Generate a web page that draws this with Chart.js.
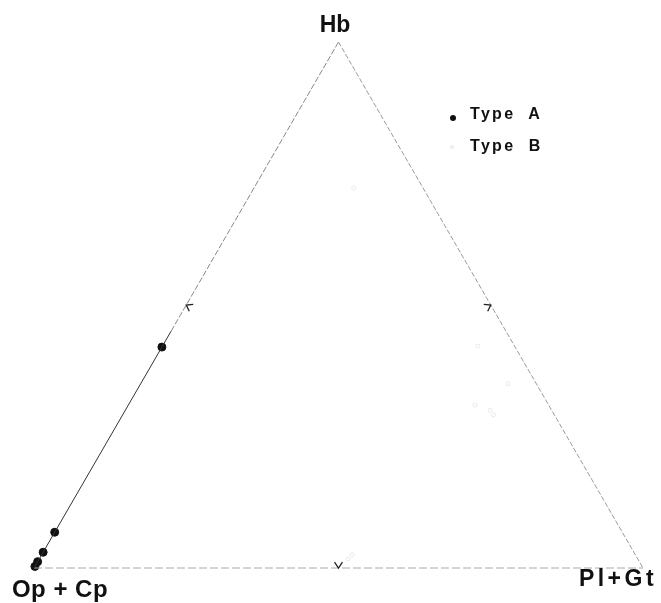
<!DOCTYPE html>
<html>
<head>
<meta charset="utf-8">
<script src="https://cdn.jsdelivr.net/npm/chart.js@4.4.1/dist/chart.umd.min.js"></script>
<style>
  html, body { margin: 0; padding: 0; background: #fff; }
  #wrap { position: relative; width: 661px; height: 603px; }
  canvas { position: absolute; left: 0; top: 0; }
  .lbl { position: absolute; font-family: "Liberation Sans", Arial, sans-serif; font-weight: bold; color: #111; line-height: 1; white-space: pre; }
</style>
</head>
<body>
<div id="wrap">
  <canvas id="c" width="661" height="603"></canvas>
  <div class="lbl" style="font-size:23px; left:335px; top:13px; transform:translateX(-50%);">Hb</div>
  <div class="lbl" style="font-size:24px; left:60px; top:577px; transform:translateX(-50%); letter-spacing:0.5px;">Op + Cp</div>
  <div class="lbl" style="font-size:23px; left:618px; top:567px; transform:translateX(-50%); letter-spacing:3.5px;">Pl+Gt</div>
  <div class="lbl" style="font-size:16px; left:470px; top:106px; letter-spacing:2.3px;">Type  A</div>
  <div class="lbl" style="font-size:16px; left:470px; top:138px; letter-spacing:2.3px;">Type  B</div>
</div>
<script>
// ---- data (ternary fractions: Hb, Op+Cp, Pl+Gt) ----
const categories = ['Type A', 'Type B'];
const vertexLabels = ['Hb', 'Op + Cp', 'Pl+Gt'];

const typeA_Hb   = [0.42, 0.068, 0.030, 0.012, 0.003];
const typeA_PlGt = [0.00, 0.000, 0.000, 0.000, 0.000];

const typeB_Hb   = [0.722, 0.422, 0.350, 0.310, 0.300, 0.291, 0.025, 0.017];
const typeB_PlGt = [0.164, 0.518, 0.603, 0.569, 0.599, 0.609, 0.510, 0.507];

// 50 % marks on each side (Hb, Pl+Gt)
const midMarks_Hb   = [0.5, 0.5, 0.0];
const midMarks_PlGt = [0.0, 0.5, 0.5];

const H = Math.sqrt(3) / 2;
function toXY(hb, pl) { return { x: pl + hb / 2, y: hb * H }; }

const ptsA = typeA_Hb.map((h, i) => toXY(h, typeA_PlGt[i]));
const ptsB = typeB_Hb.map((h, i) => toXY(h, typeB_PlGt[i]));
const vOp = toXY(0, 0), vPl = toXY(0, 1), vHb = toXY(1, 0);
const vLeftMid = toXY(0.45, 0);

// chevron 50% marks, drawn via scales
const marksPlugin = {
  id: 'marks',
  afterDatasetsDraw(chart) {
    const { ctx, scales: { x, y } } = chart;
    const cx = x.getPixelForValue(0.5), cy = y.getPixelForValue(H / 3);
    ctx.save();
    ctx.strokeStyle = '#222';
    ctx.lineWidth = 1.3;
    midMarks_Hb.forEach((h, i) => {
      const p = toXY(h, midMarks_PlGt[i]);
      const px = x.getPixelForValue(p.x), py = y.getPixelForValue(p.y);
      let dx = cx - px, dy = cy - py;
      const L = Math.hypot(dx, dy); dx /= L; dy /= L;
      const a = 0.6, len = 7;
      const c = Math.cos(a), s = Math.sin(a);
      ctx.beginPath();
      ctx.moveTo(px + len * (dx * c - dy * s), py + len * (dx * s + dy * c));
      ctx.lineTo(px, py);
      ctx.lineTo(px + len * (dx * c + dy * s), py + len * (-dx * s + dy * c));
      ctx.stroke();
    });
    // legend markers
    ctx.fillStyle = '#111';
    ctx.beginPath(); ctx.arc(453, 118, 3, 0, Math.PI * 2); ctx.fill();
    ctx.strokeStyle = '#e4e4e4'; ctx.lineWidth = 1;
    ctx.beginPath(); ctx.arc(452, 147, 1.5, 0, Math.PI * 2); ctx.stroke();
    ctx.restore();
  }
};

new Chart(document.getElementById('c'), {
  type: 'scatter',
  data: {
    datasets: [
      { label: 'edgeLeftLow', data: [vOp, vLeftMid], showLine: true, borderColor: '#333', borderWidth: 1, pointRadius: 0, clip: false },
      { label: 'edgeLeftHigh', data: [vLeftMid, vHb], showLine: true, borderColor: '#888', borderWidth: 1, borderDash: [6, 2], pointRadius: 0, clip: false },
      { label: 'edgeRight', data: [vHb, vPl], showLine: true, borderColor: '#9a9a9a', borderWidth: 1, borderDash: [5, 2], pointRadius: 0, clip: false },
      { label: 'edgeBottom', data: [vOp, vPl], showLine: true, borderColor: '#aaa', borderWidth: 1, borderDash: [8, 3], pointRadius: 0, clip: false },
      { label: categories[0], data: ptsA, backgroundColor: '#111', borderColor: '#111', pointRadius: 4, clip: false },
      { label: categories[1], data: ptsB, backgroundColor: 'rgba(0,0,0,0)', borderColor: '#e8e8e8', borderWidth: 1, pointRadius: 2, clip: false }
    ]
  },
  options: {
    responsive: false,
    animation: false,
    layout: { padding: { left: 34, right: 18, top: 42, bottom: 35 } },
    scales: {
      x: { type: 'linear', min: 0, max: 1, display: false },
      y: { type: 'linear', min: 0, max: H, display: false }
    },
    plugins: { legend: { display: false }, tooltip: { enabled: false } }
  },
  plugins: [marksPlugin]
});
</script>
</body>
</html>
